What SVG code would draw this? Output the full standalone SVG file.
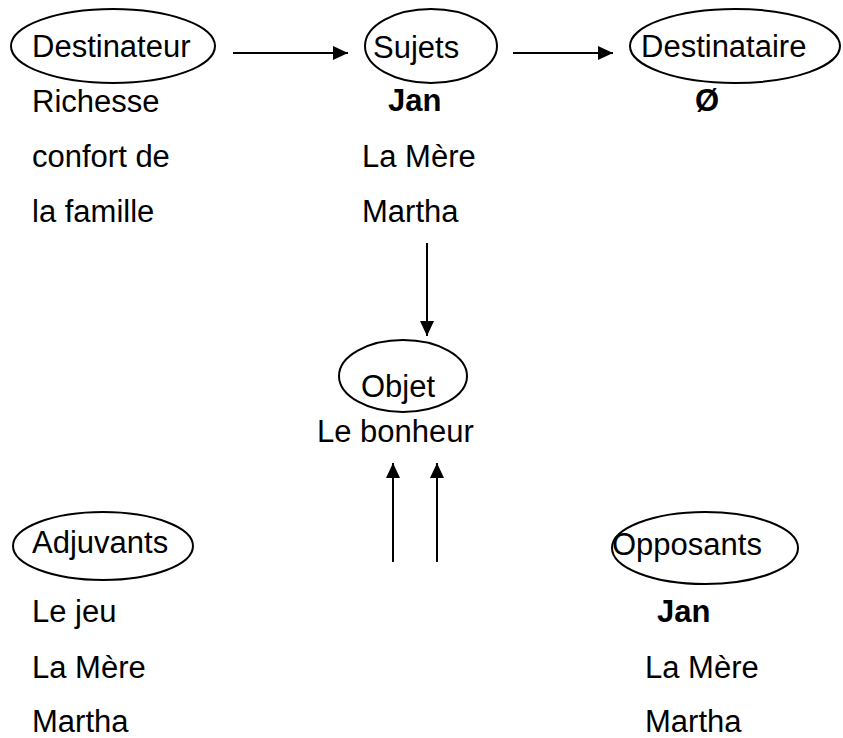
<svg xmlns="http://www.w3.org/2000/svg" width="843" height="738" viewBox="0 0 843 738">
<style>
text{font-family:"Liberation Sans",Arial,sans-serif;font-size:31px;fill:#000}
.b{font-weight:bold}
ellipse{fill:none;stroke:#000;stroke-width:2}
line{stroke:#000;stroke-width:2}
</style>
<defs>
<marker id="ah" viewBox="0 0 15 14" refX="15" refY="7" markerWidth="15" markerHeight="14" markerUnits="userSpaceOnUse" orient="auto"><path d="M0,0 L15,7 L0,14 z" fill="#000"/></marker>
</defs>
<g id="destinateur"><ellipse cx="113" cy="46" rx="102" ry="37"/><text x="32" y="57">Destinateur</text>
<text x="32" y="112">Richesse</text><text x="32" y="167">confort de</text><text x="32" y="222">la famille</text></g>
<g id="sujets"><ellipse cx="431" cy="46" rx="66" ry="37"/><text x="373" y="58">Sujets</text>
<text class="b" x="388" y="111">Jan</text><text x="362" y="167">La Mère</text><text x="362" y="222">Martha</text></g>
<g id="destinataire"><ellipse cx="735" cy="46" rx="105" ry="37"/><text x="641" y="57">Destinataire</text>
<text class="b" x="695" y="111">Ø</text></g>
<g id="objet"><ellipse cx="403" cy="376" rx="64" ry="36"/><text x="361" y="397">Objet</text>
<text x="317" y="442">Le bonheur</text></g>
<g id="adjuvants"><ellipse cx="103" cy="546" rx="90" ry="34"/><text x="32" y="553">Adjuvants</text>
<text x="32" y="622">Le jeu</text><text x="32" y="678">La Mère</text><text x="32" y="732">Martha</text></g>
<g id="opposants"><ellipse cx="705" cy="548" rx="93" ry="36"/><text x="612" y="555">Opposants</text>
<text class="b" x="657" y="622">Jan</text><text x="645" y="678">La Mère</text><text x="645" y="732">Martha</text></g>
<g id="connectors">
<line x1="233" y1="53" x2="348" y2="53" marker-end="url(#ah)"/>
<line x1="513" y1="53" x2="613" y2="53" marker-end="url(#ah)"/>
<line x1="427" y1="243" x2="427" y2="336" marker-end="url(#ah)"/>
<line x1="393" y1="562" x2="393" y2="463" marker-end="url(#ah)"/>
<line x1="437" y1="562" x2="437" y2="463" marker-end="url(#ah)"/>
</g>
</svg>
